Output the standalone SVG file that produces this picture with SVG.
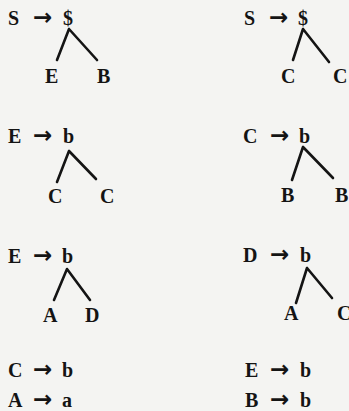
<svg xmlns="http://www.w3.org/2000/svg" width="349" height="411" viewBox="0 0 349 411">
<style>
text{font-family:"Liberation Serif","Times New Roman",serif;font-weight:bold;font-size:20px;fill:#141414}
text.ar{font-family:"DejaVu Sans",sans-serif;font-size:23px}
.e{stroke:#141414;stroke-width:2.6;stroke-linecap:round;fill:none}
</style>
<rect width="349" height="411" fill="#f4f4f2"/>
<g id="rule1">
<g id="r1-lhs"><text x="8" y="25">S</text><text class="ar" x="33" y="25">→</text></g>
<g id="r1-root"><text x="63" y="25">$</text></g>
<g id="r1-E"><text x="45" y="83">E</text></g>
<g id="r1-B"><text x="97" y="83">B</text></g>
</g>
<g id="rule2">
<g id="r2-lhs"><text x="244" y="25">S</text><text class="ar" x="269" y="25">→</text></g>
<g id="r2-root"><text x="298" y="25">$</text></g>
<g id="r2-C1"><text x="281" y="83">C</text></g>
<g id="r2-C2"><text x="333" y="83">C</text></g>
</g>
<g id="rule3">
<g id="r3-lhs"><text x="8" y="143">E</text><text class="ar" x="33" y="143">→</text></g>
<g id="r3-root"><text x="63" y="143">b</text></g>
<g id="r3-C1"><text x="48" y="203">C</text></g>
<g id="r3-C2"><text x="100" y="203">C</text></g>
</g>
<g id="rule4">
<g id="r4-lhs"><text x="243" y="143">C</text><text class="ar" x="270" y="143">→</text></g>
<g id="r4-root"><text x="299" y="143">b</text></g>
<g id="r4-B1"><text x="281" y="202">B</text></g>
<g id="r4-B2"><text x="335" y="202">B</text></g>
</g>
<g id="rule5">
<g id="r5-lhs"><text x="8" y="263">E</text><text class="ar" x="33" y="263">→</text></g>
<g id="r5-root"><text x="62" y="263">b</text></g>
<g id="r5-A"><text x="43" y="322">A</text></g>
<g id="r5-D"><text x="85" y="322">D</text></g>
</g>
<g id="rule6">
<g id="r6-lhs"><text x="243" y="262">D</text><text class="ar" x="270" y="262">→</text></g>
<g id="r6-root"><text x="300" y="262">b</text></g>
<g id="r6-A"><text x="284" y="320">A</text></g>
<g id="r6-C"><text x="337" y="320">C</text></g>
</g>
<g id="rule7"><text x="8" y="377">C</text><text class="ar" x="33" y="377">→</text><text x="62" y="377">b</text></g>
<g id="rule8"><text x="8" y="407">A</text><text class="ar" x="33" y="407">→</text><text x="62" y="407">a</text></g>
<g id="rule9"><text x="245" y="377">E</text><text class="ar" x="270" y="377">→</text><text x="300" y="377">b</text></g>
<g id="rule10"><text x="245" y="407">B</text><text class="ar" x="270" y="407">→</text><text x="300" y="407">b</text></g>
<g id="connectors">
<path class="e" d="M69 29L57 60M69 29L97 60"/>
<path class="e" d="M303 29L293 60M303 29L329 62"/>
<path class="e" d="M69 151L57 182M69 151L96 179"/>
<path class="e" d="M303 147L292 180M303 147L333 178"/>
<path class="e" d="M67 269L54 300M67 269L90 300"/>
<path class="e" d="M307 268L296 303M307 268L332 298"/>
</g>
</svg>
